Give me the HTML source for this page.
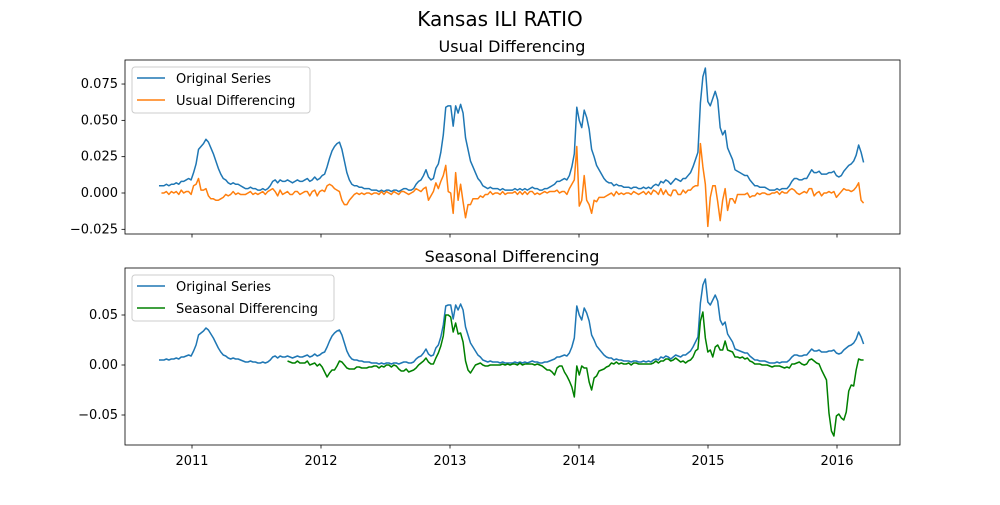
<!DOCTYPE html>
<html><head><meta charset="utf-8"><style>
body{margin:0;background:#fff;font-family:"Liberation Sans","DejaVu Sans",sans-serif}
svg text{font-family:"DejaVu Sans","Liberation Sans",sans-serif}
</style></head><body>
<svg id="chart" width="1000" height="500" xmlns="http://www.w3.org/2000/svg">
<rect width="1000" height="500" fill="#fff"/>
<text x="500" y="26" text-anchor="middle" font-size="20">Kansas ILI RATIO</text>
<text x="512" y="52" text-anchor="middle" font-size="16">Usual Differencing</text>
<text x="512" y="262" text-anchor="middle" font-size="16">Seasonal Differencing</text>
<g id="top"></g>
<g id="bot"></g>
</svg>
<script>
const startYear = 2010.744;
const original = [5,5,5,6,5,6,6,7,6,8,8,9,10,9,
14,20,30,32,34,37,35,31,27,22,17,13,10,9,7,6,7,6,6,5,
4,3,3,4,3,3,2,2,3,2,3,5,8,9,7,9,8,8,
9,8,7,8,9,8,8,9,10,8,9,11,9,10,12,13,
18,24,29,32,34,35,30,22,14,9,6,5,5,4,4,3,3,3,2,2,2,1,2,1,2,2,1,2,2,1,2,3,3,2,
2,3,6,8,9,12,16,11,9,10,17,20,28,40,59,60,60,46,60,55,61,55,38,30,22,18,14,10,8,5,4,3,4,3,3,3,2,3,2,2,2,2,3,2,3,2,3,2,3,4,3,3,
2,2,3,3,4,5,6,8,8,9,10,9,12,18,27,59,50,45,57,52,44,30,25,19,16,13,10,8,7,7,5,6,5,5,4,4,4,3,4,4,
3,3,4,3,4,3,5,6,5,8,7,9,8,6,8,10,9,8,10,10,12,14,18,23,
28,62,80,86,63,60,65,70,64,45,40,43,31,27,23,16,15,14,13,12,12,9,7,5,5,4,4,4,3,2,2,2,3,2,3,3,3,5,8,10,10,9,9,10,10,13,16,14,14,15,13,13,13,14,14,15,12,11,12,15,17,19,20,22,26,33,28,21].map(v=>v/1000);
const usualDiff = original.map((v,i)=> i>0 ? v-original[i-1] : null);
const seasonalDiff = original.map((v,i)=> i>=52 ? v-original[i-52] : null);
const xTicks = [2011,2012,2013,2014,2015,2016];
const topTicks = [0.075,0.050,0.025,0.000,-0.025];
const topTickLabels = ["0.075","0.050","0.025","0.000","−0.025"];
const botTicks = [0.05,0.00,-0.05];
const botTickLabels = ["0.05","0.00","−0.05"];

const NS="http://www.w3.org/2000/svg";
const X = yr => 192 + (yr-2011)*129;
const dateOf = i => startYear + i*7/365.25;
function mk(p,tag,attrs){const e=document.createElementNS(NS,tag);for(const k in attrs)e.setAttribute(k,attrs[k]);p.appendChild(e);return e;}

function panel(g, top, bottom, Y, ticks, labels, series, showXLabels, legend){
  const L=125,R=900;
  series.forEach(s=>{
    let d="";
    s.vals.forEach((v,i)=>{ if(v===null) return; d += (d?"L":"M")+X(dateOf(i)).toFixed(2)+","+Y(v).toFixed(2); });
    const p=mk(g,"path",{d:d,fill:"none",stroke:s.color,"stroke-width":1.5,"stroke-linejoin":"round"});
    
    
  });
  const fr=mk(g,"rect",{x:L,y:top,width:R-L,height:bottom-top,fill:"none",stroke:"#000","stroke-width":0.8});
  
  
  ticks.forEach((t,k)=>{
    const y=Y(t);
    mk(g,"line",{x1:L-3.5,x2:L,y1:y,y2:y,stroke:"#000","stroke-width":0.8});
    const tx=mk(g,"text",{x:L-7,y:y+4,"text-anchor":"end","font-size":13});
    tx.textContent=labels[k];
    
    
  });
  xTicks.forEach(t=>{
    const x=X(t);
    mk(g,"line",{x1:x,x2:x,y1:bottom,y2:bottom+3.5,stroke:"#000","stroke-width":0.8});
    if(showXLabels){
      const tx=mk(g,"text",{x:x,y:bottom+20,"text-anchor":"middle","font-size":13});
      tx.textContent=t;
      
      
    }
  });
  const lg=mk(g,"g",{});
  
  
  mk(lg,"rect",{x:132,y:top+7,width:legend.w,height:46,rx:3,fill:"#fff","fill-opacity":0.8,stroke:"#ccc"});
  legend.items.forEach((it,k)=>{
    const y=top+18+k*22;
    mk(lg,"line",{x1:137,x2:165,y1:y,y2:y,stroke:it.color,"stroke-width":1.5});
    const tx=mk(lg,"text",{x:176,y:y+5,"font-size":13});
    tx.textContent=it.label;
    
    
  });
}
const Yt = v => 193 - v*1453;
const Yb = v => 365 - v*1000;
panel(document.getElementById('top'),60,234,Yt,topTicks,topTickLabels,
  [{vals:original,color:"#1f77b4",name:"original-series"},{vals:usualDiff,color:"#ff7f0e",name:"usual-differencing"}],
  false,{w:178,items:[{label:"Original Series",color:"#1f77b4"},{label:"Usual Differencing",color:"#ff7f0e"}]});
panel(document.getElementById('bot'),268,445,Yb,botTicks,botTickLabels,
  [{vals:original,color:"#1f77b4",name:"original-series"},{vals:seasonalDiff,color:"#008000",name:"seasonal-differencing"}],
  true,{w:202,items:[{label:"Original Series",color:"#1f77b4"},{label:"Seasonal Differencing",color:"#008000"}]});
</script>
</body></html>
